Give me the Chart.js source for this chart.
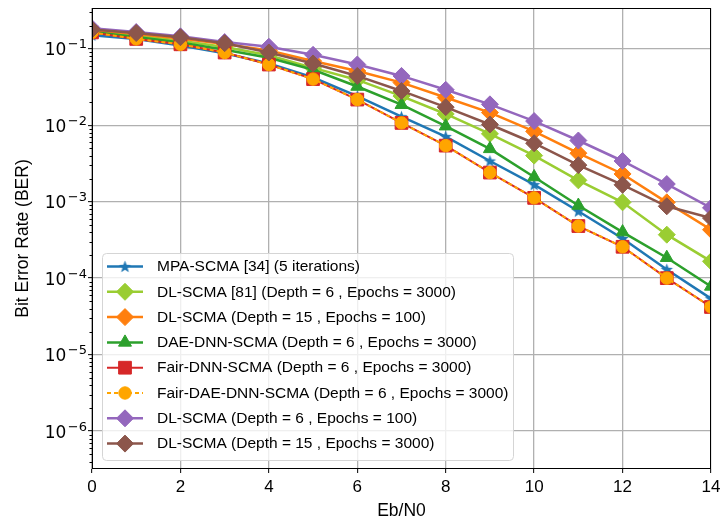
<!DOCTYPE html>
<html lang="en">
<head>
<meta charset="UTF-8">
<title>BER vs Eb/N0</title>
<script src="https://cdn.jsdelivr.net/npm/chart.js"></script>
<style>
    html, body { margin: 0; padding: 0; background: #fff; }
    #wrap { width: 721px; height: 523px; }
</style>
</head>
<body>
<div id="wrap"><canvas id="berChart" width="721" height="523"></canvas></div>
<script>
// Eb/N0 points (dB)
const ebn0 = [0, 1, 2, 3, 4, 5, 6, 7, 8, 9, 10, 11, 12, 13, 14];

// BER curves
const mpaScma      = [0.150, 0.134, 0.110, 0.087, 0.064, 0.042, 0.024, 0.0129, 0.0071, 0.0034, 0.00167, 0.00075, 0.00033, 0.00013, 0.000054];
const dlScma81     = [0.170, 0.148, 0.127, 0.105, 0.082, 0.056, 0.039, 0.024, 0.0140, 0.0077, 0.0040, 0.0019, 0.00098, 0.00037, 0.000166];
const dlD15E100    = [0.175, 0.156, 0.136, 0.115, 0.095, 0.069, 0.051, 0.036, 0.023, 0.0146, 0.0083, 0.0043, 0.0023, 0.00098, 0.00043];
const daeDnnScma   = [0.165, 0.142, 0.120, 0.097, 0.076, 0.053, 0.032, 0.0185, 0.0097, 0.0049, 0.0021, 0.00089, 0.00040, 0.000185, 0.000078];
const fairDnnScma  = [0.163, 0.134, 0.114, 0.089, 0.062, 0.040, 0.0216, 0.0107, 0.0054, 0.0024, 0.00112, 0.00048, 0.000257, 0.00010, 0.000042];
const fairDaeScma  = [0.163, 0.134, 0.114, 0.089, 0.062, 0.040, 0.0216, 0.0107, 0.0054, 0.0024, 0.00112, 0.00048, 0.000257, 0.00010, 0.000042];
const dlD6E100     = [0.185, 0.165, 0.145, 0.122, 0.106, 0.083, 0.062, 0.044, 0.029, 0.0187, 0.0113, 0.0063, 0.0034, 0.0017, 0.00083];
const dlD15E3000   = [0.178, 0.160, 0.141, 0.118, 0.089, 0.064, 0.044, 0.028, 0.0172, 0.0102, 0.0058, 0.0030, 0.00166, 0.00087, 0.00061];

const seriesLabels = [
    'MPA-SCMA [34] (5 iterations)',
    'DL-SCMA [81] (Depth = 6 , Epochs = 3000)',
    'DL-SCMA (Depth = 15 , Epochs = 100)',
    'DAE-DNN-SCMA (Depth = 6 , Epochs = 3000)',
    'Fair-DNN-SCMA (Depth = 6 , Epochs = 3000)',
    'Fair-DAE-DNN-SCMA (Depth = 6 , Epochs = 3000)',
    'DL-SCMA (Depth = 6 , Epochs = 100)',
    'DL-SCMA (Depth = 15 , Epochs = 3000)'
];

const xTicks = [0, 2, 4, 6, 8, 10, 12, 14];
const yTickValues = [1e-6, 1e-5, 1e-4, 1e-3, 1e-2, 1e-1];

// filled 5-point star, like matplotlib '*'
function makeStar(color, outer, inner) {
    const c = document.createElement('canvas');
    const s = Math.ceil(outer * 2 + 2);
    c.width = s; c.height = s;
    const g = c.getContext('2d');
    g.fillStyle = color;
    g.beginPath();
    for (let i = 0; i < 10; i++) {
        const r = i % 2 === 0 ? outer : inner;
        const a = -Math.PI / 2 + i * Math.PI / 5;
        const px = s / 2 + r * Math.cos(a), py = s / 2 + r * Math.sin(a) + 0.5;
        if (i === 0) g.moveTo(px, py); else g.lineTo(px, py);
    }
    g.closePath();
    g.fill();
    return c;
}

function toPoints(arr) {
    return ebn0.map((x, i) => ({ x: x, y: arr[i] }));
}

function series(idx, values, color, style, radius, extra) {
    return Object.assign({
        label: seriesLabels[idx],
        data: toPoints(values),
        borderColor: color,
        backgroundColor: color,
        pointBackgroundColor: color,
        pointBorderColor: color,
        pointBorderWidth: 1,
        pointStyle: style,
        pointRadius: radius,
        borderWidth: 2.5,
        tension: 0,
        clip: 0,
        order: 7 - idx
    }, extra || {});
}

const starImg = makeStar('#1f77b4', 6.5, 2.7);

const datasets = [
    series(0, mpaScma, '#1f77b4', starImg, 6),
    series(1, dlScma81, '#9acd32', 'rectRot', 8.5),
    series(2, dlD15E100, '#ff7f0e', 'rectRot', 8.5),
    series(3, daeDnnScma, '#2ca02c', 'triangle', 7.5),
    series(4, fairDnnScma, '#d62728', 'rect', 9, { borderWidth: 2 }),
    series(5, fairDaeScma, '#ffa500', 'circle', 6.2, { borderWidth: 2, borderDash: [4, 3] }),
    series(6, dlD6E100, '#9467bd', 'rectRot', 8.5),
    series(7, dlD15E3000, '#8c564b', 'rectRot', 8.5)
];

// black frame round the axes, minor log ticks, y labels as 10^n
const axesDecor = {
    id: 'axesDecor',
    afterDatasetsDraw(chart) {
        const { ctx, chartArea: a, scales } = chart;
        const y = scales.y;
        ctx.save();
        ctx.strokeStyle = '#000';
        ctx.lineWidth = 1;
        for (let n = -7; n <= 0; n++) {
            for (let k = 2; k <= 9; k++) {
                const v = k * Math.pow(10, n);
                if (v < y.min || v > y.max) continue;
                const py = Math.round(y.getPixelForValue(v)) + 0.5;
                ctx.beginPath();
                ctx.moveTo(a.left - 2.5, py);
                ctx.lineTo(a.left, py);
                ctx.stroke();
            }
        }
        ctx.strokeRect(a.left + 0.5, a.top + 0.5, a.right - a.left - 1, a.bottom - a.top - 1);

        ctx.fillStyle = '#000';
        ctx.textBaseline = 'alphabetic';
        ctx.textAlign = 'left';
        yTickValues.forEach(v => {
            const py = y.getPixelForValue(v);
            const exp = '\u2212' + Math.abs(Math.round(Math.log10(v)));
            ctx.font = '13px "DejaVu Sans"';
            const ew = ctx.measureText(exp).width;
            ctx.font = '17px "DejaVu Sans"';
            const bw = ctx.measureText('10').width;
            const right = a.left - 5;
            ctx.fillText('10', right - ew - bw - 1.5, py + 6.5);
            ctx.font = '13px "DejaVu Sans"';
            ctx.fillText(exp, right - ew, py - 0.5);
        });
        ctx.restore();
    }
};

// legend box inside the plot, lower left
const insideLegend = {
    id: 'insideLegend',
    afterDraw(chart) {
        const ctx = chart.ctx;
        const box = { x: 102, y: 253, w: 411, h: 207 };
        ctx.save();
        ctx.globalAlpha = 0.8;
        ctx.fillStyle = '#fff';
        ctx.beginPath();
        ctx.roundRect(box.x, box.y, box.w, box.h, 4);
        ctx.fill();
        ctx.globalAlpha = 1;
        ctx.strokeStyle = '#d5d5d5';
        ctx.lineWidth = 1;
        ctx.beginPath();
        ctx.roundRect(box.x + 0.5, box.y + 0.5, box.w, box.h, 4);
        ctx.stroke();

        ctx.font = '15.5px "Liberation Sans"';
        ctx.textBaseline = 'middle';
        ctx.textAlign = 'left';
        chart.data.datasets.forEach((ds, i) => {
            const ry = 266.5 + i * 25.3;
            ctx.strokeStyle = ds.borderColor;
            ctx.lineWidth = ds.borderWidth;
            ctx.setLineDash(ds.borderDash || []);
            ctx.beginPath();
            ctx.moveTo(107, ry);
            ctx.lineTo(143, ry);
            ctx.stroke();
            ctx.setLineDash([]);
            ctx.fillStyle = ds.pointBackgroundColor;
            ctx.strokeStyle = ds.pointBorderColor;
            ctx.lineWidth = 1;
            Chart.helpers.drawPoint(ctx, {
                pointStyle: ds.pointStyle,
                radius: ds.pointRadius,
                borderWidth: 1,
                rotation: 0
            }, 125, ry);
            ctx.fillStyle = '#000';
            ctx.fillText(ds.label, 157, ry + 0.5);
        });
        ctx.restore();
    }
};

new Chart(document.getElementById('berChart'), {
    type: 'line',
    data: { datasets: datasets },
    options: {
        responsive: false,
        animation: false,
        events: [],
        layout: { padding: { left: 0, right: 10, top: 8, bottom: 0 }, autoPadding: false },
        plugins: { legend: { display: false }, tooltip: { enabled: false } },
        scales: {
            x: {
                type: 'linear',
                min: 0,
                max: 14,
                afterBuildTicks: s => { s.ticks = xTicks.map(v => ({ value: v })); },
                afterFit: s => { s.height = 54; s.paddingLeft = 0; s.paddingRight = 0; },
                border: { display: false },
                grid: { color: '#b0b0b0', lineWidth: 1.3, tickColor: '#000', tickLength: 4, tickWidth: 1 },
                ticks: { color: '#000', font: { family: 'Liberation Sans', size: 17 }, padding: 4, maxRotation: 0 },
                title: { display: true, text: 'Eb/N0', color: '#000', font: { family: 'Liberation Sans', size: 17.5 }, padding: { top: 0, bottom: 1 } }
            },
            y: {
                type: 'logarithmic',
                min: 3.2e-7,
                max: 0.34,
                afterBuildTicks: s => { s.ticks = yTickValues.map(v => ({ value: v })); },
                afterFit: s => { s.width = 92; s.paddingTop = 0; s.paddingBottom = 0; },
                border: { display: false },
                grid: { color: '#b0b0b0', lineWidth: 1.3, tickColor: '#000', tickLength: 4, tickWidth: 1 },
                ticks: { display: false },
                title: { display: true, text: 'Bit Error Rate (BER)', color: '#000', font: { family: 'Liberation Sans', size: 17.5 }, padding: { top: 13, bottom: 0 } }
            }
        }
    },
    plugins: [axesDecor, insideLegend]
});
</script>
</body>
</html>
